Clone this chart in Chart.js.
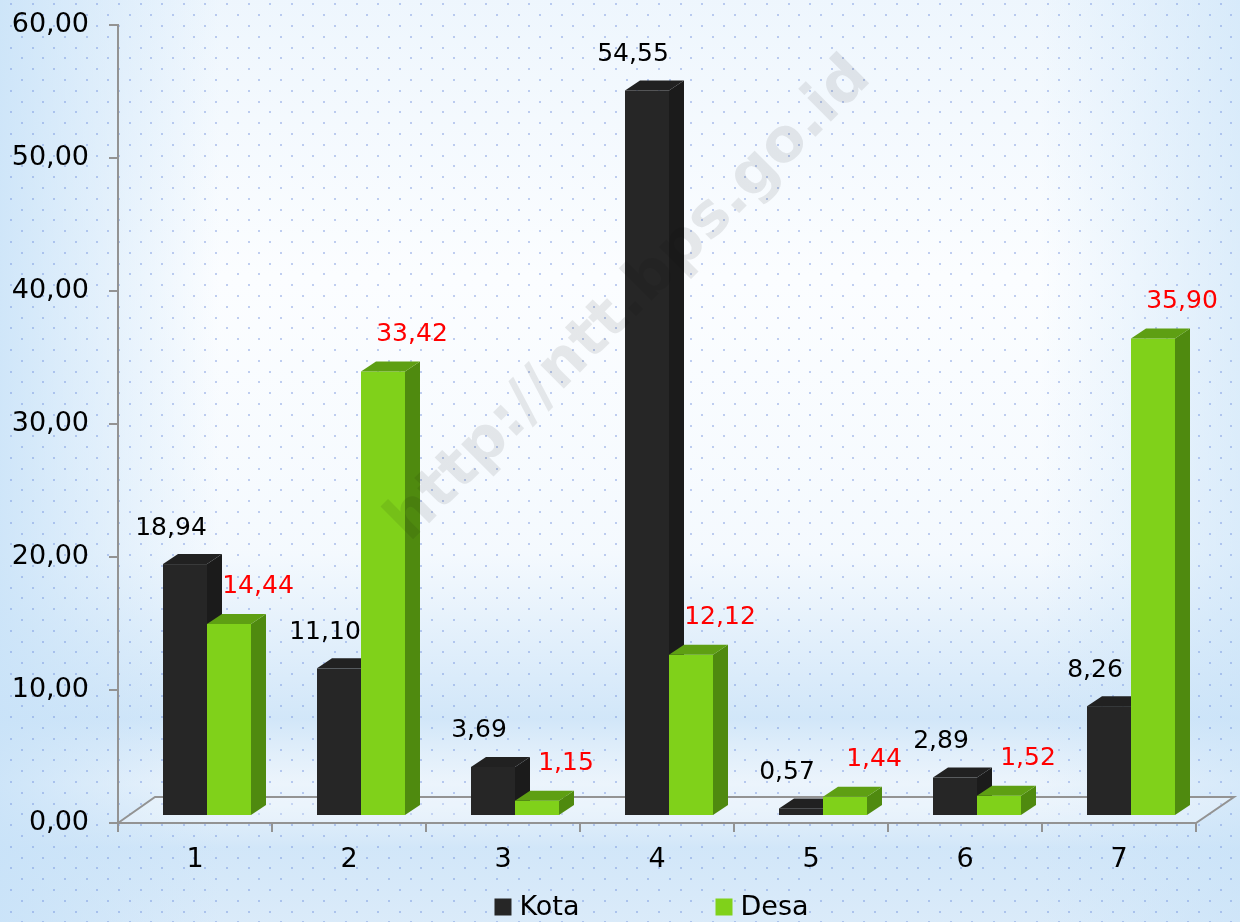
<!DOCTYPE html>
<html>
<head>
<meta charset="utf-8">
<script src="https://cdn.jsdelivr.net/npm/chart.js@4.4.1/dist/chart.umd.min.js"></script>
<style>
   body { margin: 0; background: #fff; }
   canvas { display: block; }
</style>
</head>
<body>
<canvas id="grafico" width="1240" height="922"></canvas>
<script>
const categorias = ['1', '2', '3', '4', '5', '6', '7'];
const kota = [18.94, 11.10, 3.69, 54.55, 0.57, 2.89, 8.26];
const desa = [14.44, 33.42, 1.15, 12.12, 1.44, 1.52, 35.90];
const nomesSeries = ['Kota', 'Desa'];
const yMin = 0, yMax = 60, yPasso = 10;

const FONTE = '"DejaVu Sans", sans-serif';
const corFrente = ['#262626', '#80d11a'];
const corLado = ['#1b1b1b', '#4f8a0f'];
const corTopo = ['#212121', '#5e9f13'];
const corRotulo = ['#000000', '#ff0000'];
const corEixo = '#939393';

function fmt(v) {
   return Number(v).toFixed(2).replace('.', ',');
}

// fundo azul claro com pontinhos
const fundo = {
   id: 'fundo',
   beforeDraw(chart) {
      const ctx = chart.ctx, w = chart.width, h = chart.height;
      ctx.save();
      ctx.fillStyle = '#fbfdff';
      ctx.fillRect(0, 0, w, h);

      let g = ctx.createLinearGradient(0, 0, 0, h);
      g.addColorStop(0, 'rgba(214,233,250,0.35)');
      g.addColorStop(0.3, 'rgba(214,233,250,0)');
      g.addColorStop(0.6, 'rgba(205,228,248,0.15)');
      g.addColorStop(0.78, 'rgba(205,228,248,0.9)');
      g.addColorStop(0.85, 'rgba(225,238,250,0.6)');
      g.addColorStop(0.92, 'rgba(205,228,248,0.9)');
      g.addColorStop(1, 'rgba(210,230,248,0.8)');
      ctx.fillStyle = g;
      ctx.fillRect(0, 0, w, h);

      g = ctx.createLinearGradient(0, 0, 220, 0);
      g.addColorStop(0, 'rgba(200,226,248,0.85)');
      g.addColorStop(1, 'rgba(200,226,248,0)');
      ctx.fillStyle = g;
      ctx.fillRect(0, 0, 220, h);

      g = ctx.createLinearGradient(w, 0, w - 200, 0);
      g.addColorStop(0, 'rgba(200,226,248,0.6)');
      g.addColorStop(1, 'rgba(200,226,248,0)');
      ctx.fillStyle = g;
      ctx.fillRect(w - 200, 0, 200, h);

      ctx.fillStyle = 'rgba(110,140,220,0.42)';
      for (let j = 0; j * 10.8 < h + 11; j++) {
         const y = 4.3 + j * 10.8;
         const off = (j % 2) ? 21.7 : 11;
         for (let x = off; x < w + 22; x += 21.6) {
            ctx.fillRect(Math.round(x) - 1, Math.round(y) - 1, 2, 2);
         }
      }
      ctx.restore();
   }
};

// chao 3d + barras 3d + rotulos
const barras3d = {
   id: 'barras3d',
   beforeDatasetsDraw(chart) {
      const ctx = chart.ctx;
      const a = chart.chartArea;
      ctx.save();

      // chao
      ctx.beginPath();
      ctx.moveTo(a.left, a.bottom);
      ctx.lineTo(a.left + 37, a.bottom - 26);
      ctx.lineTo(a.right + 38, a.bottom - 26);
      ctx.lineTo(a.right, a.bottom);
      ctx.closePath();
      ctx.fillStyle = 'rgba(255,255,255,0.25)';
      ctx.fill();
      ctx.strokeStyle = corEixo;
      ctx.lineWidth = 2;
      ctx.stroke();

      const d = 15, e = 10;   // profundidade da barra
      const sx = 12, sy = 7;  // barra recuada sobre o chao
      for (let i = 0; i < categorias.length; i++) {
         chart.data.datasets.forEach((ds, k) => {
            const bar = chart.getDatasetMeta(k).data[i];
            const p = bar.getProps(['x', 'y', 'base', 'width'], true);
            const l = p.x - p.width / 2 + sx, r = p.x + p.width / 2 + sx;
            const t = p.y - sy, b = p.base - sy;

            ctx.fillStyle = corFrente[k];
            ctx.fillRect(l, t, r - l, b - t);

            ctx.beginPath();
            ctx.moveTo(r, t);
            ctx.lineTo(r + d, t - e);
            ctx.lineTo(r + d, b - e);
            ctx.lineTo(r, b);
            ctx.closePath();
            ctx.fillStyle = corLado[k];
            ctx.fill();

            ctx.beginPath();
            ctx.moveTo(l, t);
            ctx.lineTo(l + d, t - e);
            ctx.lineTo(r + d, t - e);
            ctx.lineTo(r, t);
            ctx.closePath();
            ctx.fillStyle = corTopo[k];
            ctx.fill();
         });
      }

      // rotulos
      const rotDx = [-14, 29], rotDy = [-36, -37];
      ctx.font = '25px ' + FONTE;
      ctx.textAlign = 'center';
      ctx.textBaseline = 'middle';
      chart.data.datasets.forEach((ds, k) => {
         chart.getDatasetMeta(k).data.forEach((bar, i) => {
            const p = bar.getProps(['x', 'y'], true);
            ctx.fillStyle = corRotulo[k];
            ctx.fillText(fmt(ds.data[i]), p.x + sx + rotDx[k], p.y - sy + rotDy[k]);
         });
      });

      ctx.restore();
      return false;
   }
};

// marca d'agua (escurece o que esta embaixo)
const marca = {
   id: 'marca',
   afterDraw(chart) {
      const ctx = chart.ctx;
      const texto = 'http://ntt.bps.go.id';
      ctx.save();
      ctx.font = 'bold 50px ' + FONTE;
      const wTexto = ctx.measureText(texto).width;
      const tam = 50 * 655 / wTexto;
      ctx.font = 'bold ' + tam + 'px ' + FONTE;
      ctx.translate(630, 300);
      ctx.rotate(-Math.PI / 4);
      ctx.textAlign = 'center';
      ctx.textBaseline = 'middle';
      ctx.globalCompositeOperation = 'multiply';
      ctx.fillStyle = '#eaeaea';
      ctx.fillText(texto, 0, 0);
      ctx.restore();
   }
};

// legenda embaixo
const legenda = {
   id: 'legenda',
   afterDraw(chart) {
      const ctx = chart.ctx;
      ctx.save();
      ctx.font = '27px ' + FONTE;
      ctx.textBaseline = 'middle';
      ctx.textAlign = 'left';
      const caixa = 17, espaco = 8, gap = 136;
      const larguras = chart.data.datasets.map(ds => caixa + espaco + ctx.measureText(ds.label).width);
      const total = larguras.reduce((s, v) => s + v, 0) + gap * (larguras.length - 1);
      let x = 651.5 - total / 2;
      const yc = 907;
      chart.data.datasets.forEach((ds, k) => {
         ctx.fillStyle = corFrente[k];
         ctx.fillRect(x, yc - caixa / 2, caixa, caixa);
         ctx.fillStyle = '#000';
         ctx.fillText(ds.label, x + caixa + espaco, yc + 1);
         x += larguras[k] + gap;
      });
      ctx.restore();
   }
};

var ctx = document.getElementById('grafico');
new Chart(ctx, {
   type: 'bar',
   data: {
      labels: categorias,
      datasets: [{
         label: nomesSeries[0],
         data: kota,
         backgroundColor: corFrente[0]
      }, {
         label: nomesSeries[1],
         data: desa,
         backgroundColor: corFrente[1]
      }]
   },
   options: {
      responsive: false,
      animation: false,
      devicePixelRatio: 1,
      layout: {
         padding: { top: 25, right: 44, left: 0, bottom: 0 }
      },
      datasets: {
         bar: { categoryPercentage: 0.5714, barPercentage: 1 }
      },
      plugins: {
         legend: { display: false },
         tooltip: { enabled: false }
      },
      scales: {
         x: {
            grid: { offset: true, drawOnChartArea: false, drawTicks: true, tickLength: 9, color: corEixo, lineWidth: 2 },
            border: { color: corEixo, width: 2 },
            ticks: { color: '#000', font: { family: FONTE, size: 27 }, padding: 12 },
            afterFit(s) { s.height = 99; s.paddingLeft = 0; s.paddingRight = 0; }
         },
         y: {
            min: yMin,
            max: yMax,
            grid: { drawOnChartArea: false, drawTicks: true, tickLength: 9, color: corEixo, lineWidth: 2 },
            border: { color: corEixo, width: 2 },
            ticks: { stepSize: yPasso, callback: v => fmt(v), color: '#000', font: { family: FONTE, size: 27 }, padding: 20 },
            afterFit(s) { s.width = 118; s.paddingTop = 0; s.paddingBottom = 0; }
         }
      }
   },
   plugins: [fundo, barras3d, marca, legenda]
});
</script>
</body>
</html>
